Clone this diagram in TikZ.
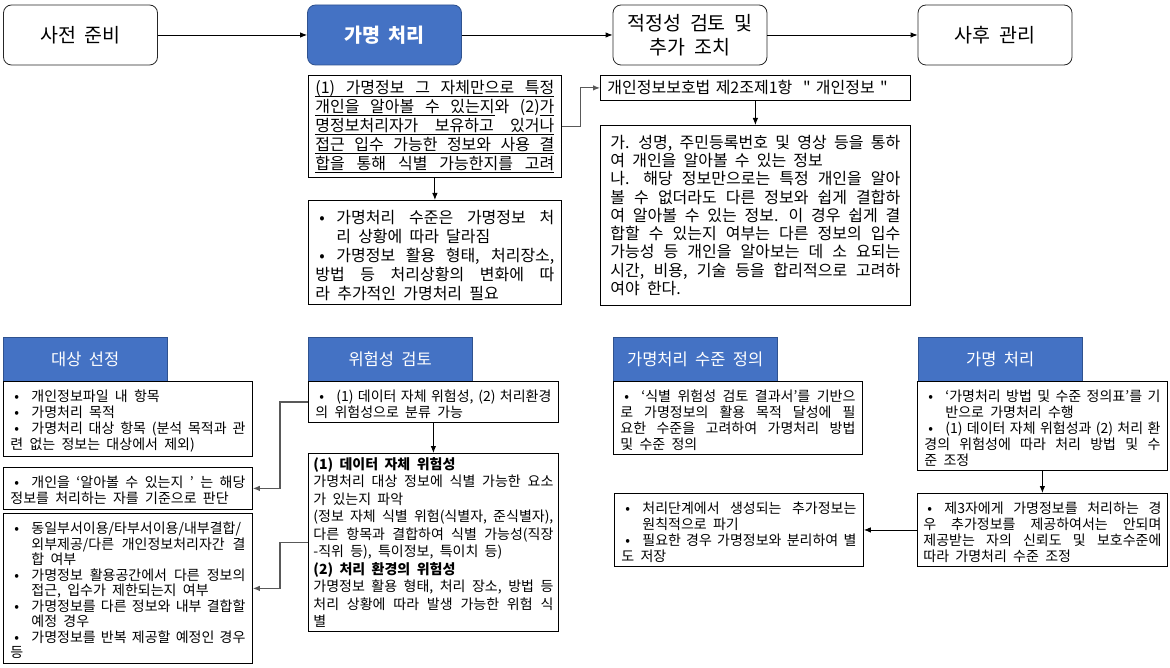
\documentclass[tikz,border=0pt]{standalone}
\usepackage{fontspec}
\setmainfont{Noto Sans CJK KR}[Ligatures=TeXOff, WordSpace={2,2,3}]
\usetikzlibrary{arrows.meta, positioning}
\definecolor{hdblue}{RGB}{68,114,196}
\definecolor{hdline}{RGB}{47,82,143}
\tolerance=9999
\hbadness=10000
\hfuzz=20pt
\setlength{\parindent}{0pt}
\newcommand{\bitem}{\par\noindent\hangindent=21pt\hangafter=1\hbox to 21pt{\hspace{4pt}\textbullet\hfil}}
\newcommand{\ulw}[1]{\setbox0=\hbox{#1}\rlap{\vrule width\wd0 height-3.2pt depth3.9pt}\box0}
\newcommand{\us}{\leaders\hrule height-3.2pt depth3.9pt\hskip 0.45em plus 1fil}
\newcommand{\ulline}[1]{\hbox to\linewidth{\rlap{\vrule width\linewidth height-3.2pt depth3.9pt}\spaceskip=0.45em plus 1fil\relax #1}}

\begin{document}
\begin{tikzpicture}[x=1pt, y=-1pt,
    stage/.style={draw=black!85, line width=0.8pt, rounded corners=8pt, minimum width=154,
                  minimum height=60, align=center, font=\fontsize{19.5}{24}\selectfont},
    stagehi/.style={stage, fill=hdblue, draw=hdline, text=white,
                    font=\fontsize{19.5}{24}\selectfont\bfseries},
    head/.style={anchor=north west, fill=hdblue, draw=hdline, text=white,
                 minimum width=164, minimum height=44, font=\fontsize{16.5}{18}\selectfont},
    memo/.style={anchor=north west, draw, line width=0.8pt, align=justify,
                 inner xsep=7pt, inner ysep=4pt, font=\fontsize{16}{19}\selectfont},
    note/.style={anchor=north west, draw, line width=0.8pt, align=justify,
                 inner xsep=7pt, inner ysep=4pt, font=\fontsize{14}{16}\selectfont},
    arr/.style={-{Latex[length=7pt, width=5.5pt]}, line width=0.9pt},
    elbow/.style={arr, draw=black!65, line width=1.1pt}
]
\useasboundingbox (0,0) rectangle (1170,668);

\node[stage]   (prep)   at (80.5,35)  {사전 준비};
\node[stagehi] (pseudo) at (384.5,35) {가명 처리};
\node[stage]   (review) at (690,35)   {적정성 검토 및\\추가 조치};
\node[stage]   (post)   at (995,35)   {사후 관리};

\node[memo, text width=239, minimum height=102] (crit) at (308,75) {%
\ulline{(1) 가명정보 그 자체만으로 특정}
\hbox to\linewidth{\ulw{개인을}\us\ulw{알아볼}\us\ulw{수}\us\ulw{있는지}와\hskip 0.45em plus 1fil(2)\ulw{가}}
\ulline{명정보처리자가 보유하고 있거나}
\ulline{접근 입수 가능한 정보와 사용 결}
\ulline{합을 통해 식별 가능한지를 고려}};
\node[memo, text width=296, minimum height=25, align=left] (law) at (600,75)
  {개인정보보호법 제2조제1항 \ " 개인정보 "};
\node[memo, text width=290, inner xsep=10pt, minimum height=180,
      font=\fontsize{16}{18.3}\selectfont] (def) at (600,125) {%
가. 성명, 주민등록번호 및 영상 등을 통하\linebreak 여 개인을 알아볼 수 있는 정보\par
나. 해당 정보만으로는 특정 개인을 알아\linebreak 볼 수 없더라도 다른 정보와 쉽게 결합하\linebreak
여 알아볼 수 있는 정보. 이 경우 쉽게 결\linebreak 합할 수 있는지 여부는 다른 정보의 입수\linebreak
가능성 등 개인을 알아보는 데 소 요되는\linebreak 시간, 비용, 기술 등을 합리적으로 고려하\linebreak
여야 한다.};
\node[memo, text width=239, minimum height=103] (lvl) at (308,200) {%
\bitem 가명처리 수준은 가명정보 처\linebreak 리 상황에 따라 달라짐
\bitem 가명정보 활용 형태, 처리장소,\linebreak 방법 등 처리상황의 변화에 따\linebreak
라 추가적인 가명처리 필요};

\node[head] (h1) at (3,337)   {대상 선정};
\node[head] (h2) at (308,337) {위험성 검토};
\node[head] (h3) at (613,337) {가명처리 수준 정의};
\node[head] (h4) at (918,337) {가명 처리};

\node[note, text width=235, minimum height=71] (c1a) at (3,381) {%
\bitem 개인정보파일 내 항목
\bitem 가명처리 목적
\bitem 가명처리 대상 항목 (분석 목적과 관\linebreak 련 없는 정보는 대상에서 제외)};
\node[note, text width=235, minimum height=42] (c1b) at (3,467) {%
\bitem 개인을 ‘알아볼 수 있는지 ’ 는 해당\linebreak 정보를 처리하는 자를 기준으로 판단};
\node[note, text width=235, minimum height=150,
      font=\fontsize{14}{15.5}\selectfont] (c1c) at (3,513) {%
\bitem 동일부서이용/타부서이용/내부결합/\linebreak 외부제공/다른 개인정보처리자간 결\linebreak 합 여부
\bitem 가명정보 활용공간에서 다른 정보의\linebreak 접근, 입수가 제한되는지 여부
\bitem 가명정보를 다른 정보와 내부 결합할\linebreak 예정 경우
\bitem 가명정보를 반복 제공할 예정인 경우\linebreak 등};

\node[note, text width=236, minimum height=41] (c2a) at (308,381) {%
\bitem (1) 데이터 자체 위험성, (2) 처리환경\linebreak 의 위험성으로 분류 가능};
\node[note, text width=240, inner xsep=5pt, minimum height=164,
      font=\fontsize{14}{17.5}\selectfont] (c2b) at (308,453) {%
\textbf{(1) 데이터 자체 위험성}\par
가명처리 대상 정보에 식별 가능한 요소\linebreak 가 있는지 파악\par
(정보 자체 식별 위험(식별자, 준식별자),\linebreak 다른 항목과 결합하여 식별 가능성(직장\linebreak
-직위 등), 특이정보, 특이치 등)\par
\textbf{(2) 처리 환경의 위험성}\par
가명정보 활용 형태, 처리 장소, 방법 등\linebreak 처리 상황에 따라 발생 가능한 위험 식\linebreak 별};

\node[note, text width=235, minimum height=72] (c3a) at (613,381) {%
\bitem ‘식별 위험성 검토 결과서’를 기반으\linebreak 로 가명정보의 활용 목적 달성에 필\linebreak
요한 수준을 고려하여 가명처리 방법\linebreak 및 수준 정의};
\node[note, text width=235, minimum height=72] (c3b) at (614,493) {%
\bitem 처리단계에서 생성되는 추가정보는\linebreak 원칙적으로 파기
\bitem 필요한 경우 가명정보와 분리하여 별\linebreak 도 저장};

\node[note, text width=236, minimum height=88] (c4a) at (917,381) {%
\bitem ‘가명처리 방법 및 수준 정의표’를 기\linebreak 반으로 가명처리 수행
\bitem (1) 데이터 자체 위험성과 (2) 처리 환\linebreak 경의 위험성에 따라 처리 방법 및 수\linebreak 준 조정};
\node[note, text width=238, inner xsep=6pt, minimum height=73] (c4b) at (917,493) {%
\bitem 제3자에게 가명정보를 처리하는 경\linebreak 우 추가정보를 제공하여서는 안되며\linebreak
제공받는 자의 신뢰도 및 보호수준에\linebreak 따라 가명처리 수준 조정};

\draw[arr] (prep) -- (pseudo);
\draw[arr] (pseudo) -- (review);
\draw[arr] (review) -- (post);
\draw[elbow] (crit.east) -- ++(19,0) |- (law.west);
\draw[arr] (law) -- (def);
\draw[arr] (crit) -- (lvl);
\draw[elbow] (c2a.west) -- ++(-28,0) |- (c1b.east);
\draw[elbow] (c2b.west) -- ++(-28,0) |- (c1c.east);
\draw[arr] (c2a) -- (c2b);
\draw[arr] (c4a) -- (c4b);
\draw[arr] (c4b.west) -- (c4b.west -| c3b.east);
\end{tikzpicture}
\end{document}
